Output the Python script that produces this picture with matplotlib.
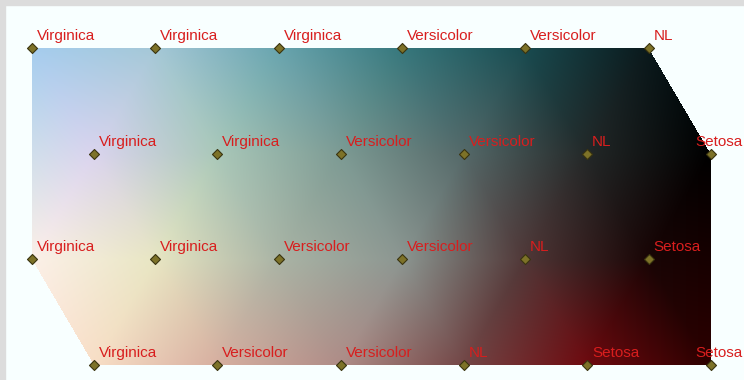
import numpy as np
import matplotlib.pyplot as plt
import matplotlib.tri as mtri
from matplotlib.patches import Rectangle


# SOM grid: 4 rows x 6 columns, hexagonal layout (odd rows shifted right)
n_rows = 4
n_cols = 6

labels = [
    ["Virginica", "Virginica", "Virginica", "Versicolor", "Versicolor", "NL"],
    ["Virginica", "Virginica", "Versicolor", "Versicolor", "NL", "Setosa"],
    ["Virginica", "Virginica", "Versicolor", "Versicolor", "NL", "Setosa"],
    ["Virginica", "Versicolor", "Versicolor", "NL", "Setosa", "Setosa"],
]

# RGB colour of each neuron (0-255)
node_rgb = [
    [(165, 205, 238), (165, 200, 215), (105, 165, 175), (55, 120, 125), (25, 75, 80), (10, 25, 28)],
    [(218, 212, 238), (170, 200, 185), (125, 155, 148), (85, 105, 105), (35, 40, 40), (0, 0, 0)],
    [(252, 240, 232), (232, 230, 195), (170, 180, 165), (140, 150, 145), (80, 55, 55), (25, 5, 5)],
    [(248, 222, 198), (215, 175, 160), (175, 140, 135), (115, 70, 70), (110, 10, 15), (45, 0, 0)],
]

W, H = 744, 380
x0, dx, x_shift = 32.0, 123.3, 62.0
y0, dy = 48.0, 105.7

fig = plt.figure(figsize=(W / 100, H / 100), dpi=100)
fig.patch.set_facecolor("#f8ffff")
ax = fig.add_axes([0, 0, 1, 1])
ax.set_xlim(0, W)
ax.set_ylim(H, 0)
ax.axis("off")

# grey frame strip on top and left
ax.add_patch(Rectangle((0, 0), W, 5, color="#dcdcdc", zorder=0))
ax.add_patch(Rectangle((0, 0), 5, H, color="#dcdcdc", zorder=0))

xs, ys, cols = [], [], []
for r in range(n_rows):
    for c in range(n_cols):
        xs.append(x0 + c * dx + (x_shift if r % 2 else 0.0))
        ys.append(y0 + r * dy)
        cols.append(node_rgb[r][c])
xs = np.array(xs)
ys = np.array(ys)
cols = np.array(cols, dtype=float) / 255.0

# interpolate colours over the grid
tri = mtri.Triangulation(xs, ys)
gx, gy = np.meshgrid(np.arange(0, W) + 0.5, np.arange(0, H) + 0.5)
img = np.ones((H, W, 4))
img[..., 3] = 0.0
for k in range(3):
    interp = mtri.LinearTriInterpolator(tri, cols[:, k])
    z = interp(gx, gy)
    img[..., k] = np.clip(z.filled(1.0), 0, 1)
    if k == 0:
        img[..., 3] = (~np.ma.getmaskarray(z)).astype(float)

ax.imshow(img, extent=(0, W, H, 0), interpolation="bilinear", zorder=1)

# neurons and labels
ax.scatter(xs, ys, marker="D", s=26, c="#7d7228", edgecolors="#3a3410",
           linewidths=0.8, zorder=3)
i = 0
for r in range(n_rows):
    for c in range(n_cols):
        t = ax.text(xs[i] + 5, ys[i] - 8, labels[r][c], color="#d81e1e",
                    fontsize=11, family="Liberation Sans", ha="left",
                    va="baseline", zorder=4)
        # labels that would run past the right edge are pulled back inside
        if c == n_cols - 1 and r % 2 == 1:
            t.set_x(W - 1)
            t.set_ha("right")
        i += 1

fig.savefig("out.png", dpi=100, facecolor=fig.get_facecolor())
